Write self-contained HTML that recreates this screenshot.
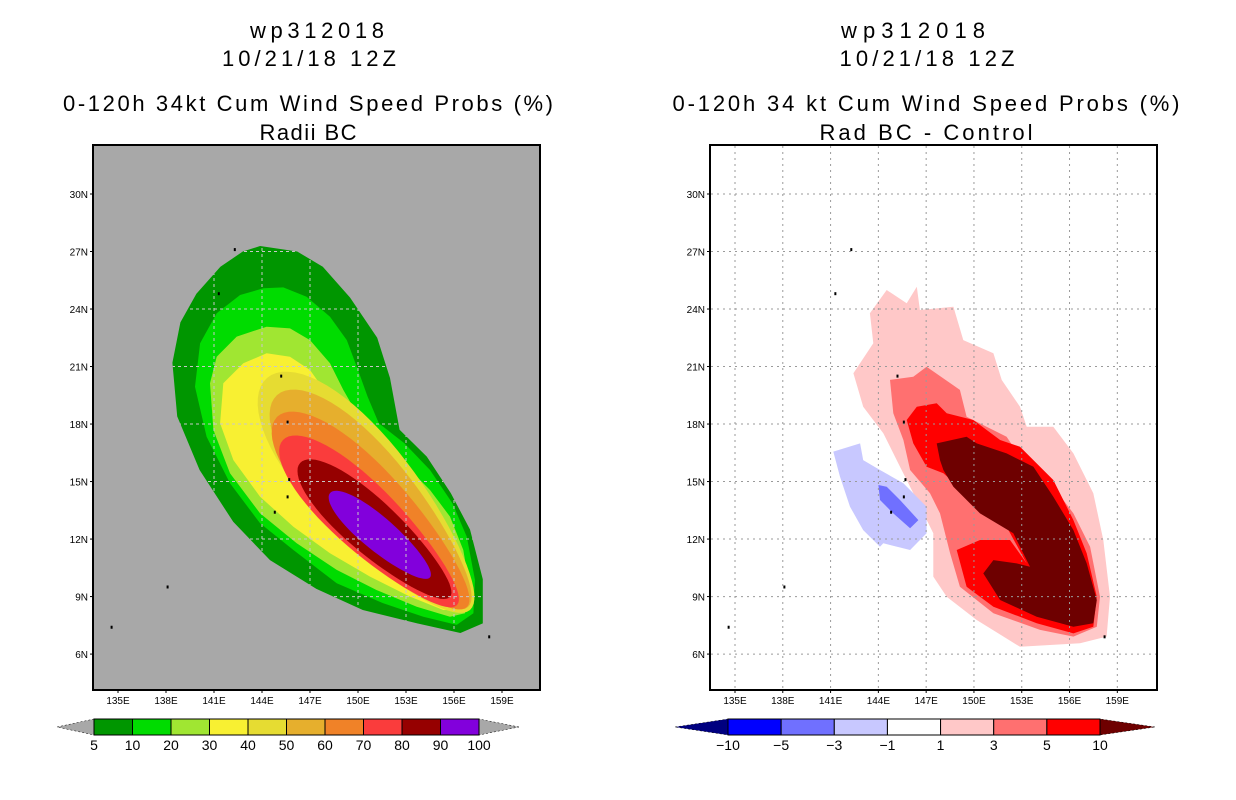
<!DOCTYPE html>
<html><head><meta charset="utf-8"><style>
html,body{margin:0;padding:0;background:#fff;width:1236px;height:800px;overflow:hidden}
svg{display:block;font-family:"Liberation Sans",sans-serif}
</style></head><body>
<svg id="svg" width="1236" height="800" viewBox="0 0 1236 800">
<g font-size="22" text-anchor="middle" fill="#000">
<text x="317" y="38" textLength="134">wp312018</text>
<text x="309" y="66" textLength="174">10/21/18 12Z</text>
<text x="308" y="111" textLength="490">0-120h 34kt Cum Wind Speed Probs (%)</text>
<text x="308" y="140" textLength="97">Radii BC</text>
</g>
<g font-size="22" text-anchor="middle" fill="#000">
<text x="913" y="38" textLength="144">wp312018</text>
<text x="927" y="66" textLength="175">10/21/18 12Z</text>
<text x="926" y="111" textLength="507">0-120h 34 kt Cum Wind Speed Probs (%)</text>
<text x="926" y="140" textLength="213">Rad BC - Control</text>
</g>
</svg>
<script>
// ---- data ----
const latTicks=[30,27,24,21,18,15,12,9,6];
const lonTicks=[135,138,141,144,147,150,153,156,159];
// left panel outer probability contours as lon/lat polygons
const prob5=[[143.88,27.29],[146.2,27.0],[147.8,26.2],[149.5,24.6],[151.2,22.5],[152.0,20.4],[152.6,17.7],[154.3,16.3],[155.8,14.4],[157.0,12.5],[157.8,9.9],[157.8,7.6],[156.4,7.1],[153.7,7.6],[150.3,8.3],[147.4,9.4],[144.5,10.9],[142.2,12.9],[140.1,15.6],[138.7,18.4],[138.4,21.2],[138.9,23.3],[139.9,24.8],[141.4,26.2],[142.8,27.0]];
const prob10=[[145.33,25.13],[146.79,24.64],[148.25,23.60],[149.3,22.38],[150.0,20.82],[150.6,19.43],[151.3,18.04],[152.9,17.0],[154.5,15.6],[155.9,13.87],[156.8,12.12],[157.31,9.86],[157.21,8.13],[156.17,7.52],[154.08,7.95],[151.58,8.65],[148.67,9.69],[145.96,11.43],[143.88,12.82],[142.0,14.91],[140.54,17.34],[139.81,19.95],[140.13,22.21],[141.17,23.78],[142.63,24.73],[144.08,25.08]];
const prob20=[[144.29,23.08],[145.75,22.99],[147.0,22.38],[148.25,21.17],[149.08,19.78],[149.92,18.56],[151.17,17.34],[152.83,15.95],[154.5,14.56],[155.75,13.17],[156.58,11.43],[157.0,9.34],[156.69,8.13],[155.75,7.95],[153.67,8.47],[151.17,9.34],[148.67,10.39],[146.17,11.78],[143.88,13.34],[142.0,15.43],[140.96,17.69],[140.75,20.13],[141.17,21.51],[142.42,22.56]];
const prob30=[[144.29,21.69],[145.75,21.51],[147.0,20.82],[148.04,19.6],[148.88,18.21],[149.92,17.0],[151.58,15.6],[153.46,14.21],[155.13,12.82],[156.17,11.08],[156.69,9.17],[156.38,8.3],[155.33,8.3],[153.25,9.0],[150.75,10.04],[148.25,11.26],[145.96,12.64],[143.88,14.21],[142.21,16.12],[141.38,18.04],[141.58,20.13],[142.83,21.17]];
// inner levels: tip1 lon/lat, tip2 lon/lat, half width deg, egg factor
const innerLevels=[40,50,60,70,80,90];
const innerTip1=[[144.31,20.4],[144.94,19.51],[144.94,18.37],[145.31,17.17],[146.38,15.97],[148.25,14.4]];
const innerTip2=[[157.0,8.3],[156.88,8.46],[156.81,8.46],[156.19,8.56],[155.75,8.98],[154.5,10.0]];
const innerWidth=[2.85,2.5,2.2,1.85,1.5,0.95];
const innerEgg=[0.2,0.2,0.2,0.18,0.15,0.1];
const probColors=["#009600","#00DC00","#A0E632","#F8F032","#E6DC32","#E6AF2D","#F08228","#FA3C3C","#960000","#8200DC"];
const probLabels=["5","10","20","30","40","50","60","70","80","90","100"];
// right panel: difference contours (lon/lat polygons)
const diffLabels=["-10","-5","-3","-1","1","3","5","10"];
const diffColors=["#0000FF","#7070FF","#C8C8FF","#FFFFFF","#FFC8C8","#FF7070","#FF0000","#6E0000"];
const diffPos1=[[146.41,25.16],[146.61,23.95],[148.71,24.12],[149.33,22.38],[151.22,21.69],[151.74,20.30],[152.89,18.90],[153.31,17.86],[154.98,17.86],[156.24,16.47],[157.49,14.39],[158.12,11.95],[158.54,8.99],[158.33,6.91],[156.66,6.56],[152.89,6.38],[150.17,7.78],[148.29,8.99],[147.45,10.04],[147.45,12.30],[146.41,14.04],[145.36,15.77],[144.31,17.52],[143.05,18.90],[142.43,20.65],[143.68,22.21],[143.47,23.78],[144.52,24.99],[145.78,24.30]];
const diffPos3=[[147.03,20.99],[149.12,19.78],[149.54,18.38],[152.05,17.34],[153.31,15.77],[154.98,14.73],[156.24,13.34],[157.29,11.60],[157.91,8.99],[157.71,7.43],[156.24,6.91],[154.15,7.26],[151.22,8.13],[149.12,9.51],[148.50,11.26],[147.87,13.34],[147.24,14.39],[145.99,15.60],[145.57,17.17],[144.94,18.56],[144.73,20.30],[146.19,20.47]];
const diffPos5=[[146.41,18.90],[147.66,19.08],[148.29,18.56],[149.96,18.21],[151.64,17.17],[152.89,16.82],[154.98,15.08],[156.24,12.99],[157.08,11.26],[157.71,8.99],[157.49,7.43],[156.24,7.08],[153.94,7.61],[151.22,8.47],[149.54,9.51],[148.92,11.43],[150.38,11.95],[152.26,11.95],[153.31,10.73],[152.05,12.64],[149.75,14.21],[148.08,15.43],[147.03,15.77],[146.19,16.99],[145.78,18.21]];
const diffPos10=[[147.66,16.99],[149.54,17.34],[150.17,16.99],[152.05,16.47],[153.73,15.77],[154.98,14.21],[156.24,12.47],[157.08,10.73],[157.71,8.82],[157.49,7.61],[156.24,7.43],[153.94,7.95],[151.64,8.82],[150.59,10.21],[151.22,10.90],[152.68,10.73],[153.52,10.56],[152.47,12.30],[150.38,13.34],[148.71,14.73],[148.08,15.60],[147.87,16.12]];
const diffNeg1=[[141.17,16.56],[142.85,16.99],[143.05,16.12],[144.10,15.60],[145.57,14.91],[147.03,13.69],[147.03,12.30],[145.99,11.43],[144.31,11.78],[144.10,11.60],[143.05,12.47],[142.22,13.69],[141.59,15.25]];
const diffNeg3=[[144.0,14.82],[144.52,14.73],[145.36,14.04],[146.51,12.99],[145.99,12.56],[144.94,13.34],[144.10,14.04]];
const islands=[[142.3,27.1],[141.3,24.8],[145.7,15.1],[145.6,14.2],[144.8,13.4],[138.1,9.5],[134.6,7.4],[158.2,6.9],[145.6,18.1],[145.2,20.5]];

const NS="http://www.w3.org/2000/svg";
const svg=document.getElementById('svg');
function mk(tag,attrs,parent){const e=document.createElementNS(NS,tag);for(const k in attrs)e.setAttribute(k,attrs[k]);(parent||svg).appendChild(e);return e;}

const Y=lat=>194+(30-lat)*19.17;
const XL=lon=>118+(lon-135)*16;
const XR=lon=>735+(lon-135)*15.93;
const ptsStr=(pts,X)=>pts.map(p=>X(p[0]).toFixed(1)+','+Y(p[1]).toFixed(1)).join(' ');

function panel(x0,X,bg,name){
  const g=mk('g',{});
  
  
  const cp=mk('clipPath',{id:name+'-clip'},g);
  mk('rect',{x:x0,y:145,width:447,height:545},cp);
  const bgr=mk('rect',{x:x0,y:145,width:447,height:545,fill:bg},g);
  
  
  const field=mk('g',{'clip-path':'url(#'+name+'-clip)'},g);
  
  
  return {g,field,x0,X};
}
function axes(p,gridCol,dash,gridClip){
  const {g,x0,X}=p;
  const ga={stroke:gridCol,'stroke-width':1,'stroke-dasharray':dash};
  if(gridClip) ga['clip-path']='url(#'+gridClip+')';
  const grid=mk('g',ga,g);
  
  
  lonTicks.forEach(l=>{const ln=mk('line',{x1:X(l),x2:X(l),y1:146,y2:689},grid);
    
    });
  latTicks.forEach(l=>{const ln=mk('line',{x1:x0+1,x2:x0+446,y1:Y(l),y2:Y(l)},grid);
    
    });
  const fr=mk('rect',{x:x0,y:145,width:447,height:545,fill:'none',stroke:'#000','stroke-width':2},g);
  
  
  latTicks.forEach(l=>{
    const t=mk('text',{x:x0-5,y:Y(l)+4,'font-size':10,'text-anchor':'end'},g);t.textContent=l+'N';
    
    
    mk('line',{x1:x0-3,x2:x0,y1:Y(l),y2:Y(l),stroke:'#000'},g);
  });
  lonTicks.forEach(l=>{
    const t=mk('text',{x:X(l),y:704,'font-size':10,'text-anchor':'middle'},g);t.textContent=l+'E';
    
    
    mk('line',{x1:X(l),x2:X(l),y1:690,y2:693,stroke:'#000'},g);
  });
}
function poly(pts,X,fill,parent){
  return mk('polygon',{points:ptsStr(pts,X),fill:fill},parent);
}
function egg(t1,t2,w,k,X,fill,parent){
  const x1=X(t1[0]),y1=Y(t1[1]),x2=X(t2[0]),y2=Y(t2[1]);
  const cx=(x1+x2)/2,cy=(y1+y2)/2,a=Math.hypot(x2-x1,y2-y1)/2;
  const ux=(x2-x1)/(2*a),uy=(y2-y1)/(2*a),nx=-uy,ny=ux,b=w*17.5;
  const pts=[];
  for(let i=0;i<72;i++){const th=i/72*Math.PI*2,s=Math.cos(th),t=Math.sin(th),bb=b*(1-k*s);
    pts.push((cx+ux*a*s+nx*bb*t).toFixed(1)+','+(cy+uy*a*s+ny*bb*t).toFixed(1));}
  return mk('polygon',{points:pts.join(' '),fill:fill},parent);
}
function isl(X,parent){
  islands.forEach(c=>{const r=mk('rect',{x:X(c[0])-1,y:Y(c[1])-1.5,width:2,height:3,fill:'#000'},parent);
    
    });
}

// left panel
const L=panel(93,XL,'#A8A8A8','left-map');
[[prob5,0,'contour-5-pct'],[prob10,1,'contour-10-pct'],[prob20,2,'contour-20-pct'],[prob30,3,'contour-30-pct']].forEach(d=>{
  const p=poly(d[0],XL,probColors[d[1]],L.field);
  
  
});
innerLevels.forEach((lv,i)=>{
  const e=egg(innerTip1[i],innerTip2[i],innerWidth[i],innerEgg[i],XL,probColors[i+4],L.field);
  
  
});
isl(XL,L.field);
const gc=mk('clipPath',{id:'left-grid-clip'},L.g);
mk('polygon',{points:ptsStr(prob5,XL)},gc);
axes(L,'#c8c8c8','3,3','left-grid-clip');

// right panel
const R=panel(710,XR,'#FFFFFF','right-map');
[[diffPos1,4,'diff-ge-1'],[diffPos3,5,'diff-ge-3'],[diffPos5,6,'diff-ge-5'],[diffPos10,7,'diff-ge-10'],[diffNeg1,2,'diff-le-minus-1'],[diffNeg3,1,'diff-le-minus-3']].forEach(d=>{
  const p=poly(d[0],XR,diffColors[d[1]],R.field);
  
  
});
isl(XR,R.field);
axes(R,'#9a9a9a','2,4',null);

// colorbars
function colorbar(x0,x1,y0,cols,labels,lt,rt,lc,rc,name){
  const g=mk('g',{});
  
  
  const w=(x1-x0)/cols.length;
  const a=mk('polygon',{points:`${lt},${y0+8} ${x0},${y0} ${x0},${y0+16}`,fill:lc,stroke:'#000','stroke-width':0.5,'stroke-dasharray':'2,2'},g);
  
  
  const b=mk('polygon',{points:`${rt},${y0+8} ${x1},${y0} ${x1},${y0+16}`,fill:rc,stroke:'#000','stroke-width':0.5,'stroke-dasharray':'2,2'},g);
  
  
  cols.forEach((c,i)=>{const r=mk('rect',{x:x0+i*w,y:y0,width:w,height:16,fill:c,stroke:'#000','stroke-width':1},g);
    
    });
  labels.forEach((l,i)=>{const t=mk('text',{x:x0+i*w,y:y0+31,'font-size':14,'text-anchor':'middle'},g);
    t.textContent=l.replace('-','\u2212');
    
    });
}
colorbar(94,479,719,probColors,probLabels,57,519,'#A8A8A8','#A8A8A8','left-colorbar');
colorbar(728,1100,719,diffColors.slice(0,7),diffLabels,675,1155,'#000080','#6E0000','right-colorbar');
</script>
</body></html>
